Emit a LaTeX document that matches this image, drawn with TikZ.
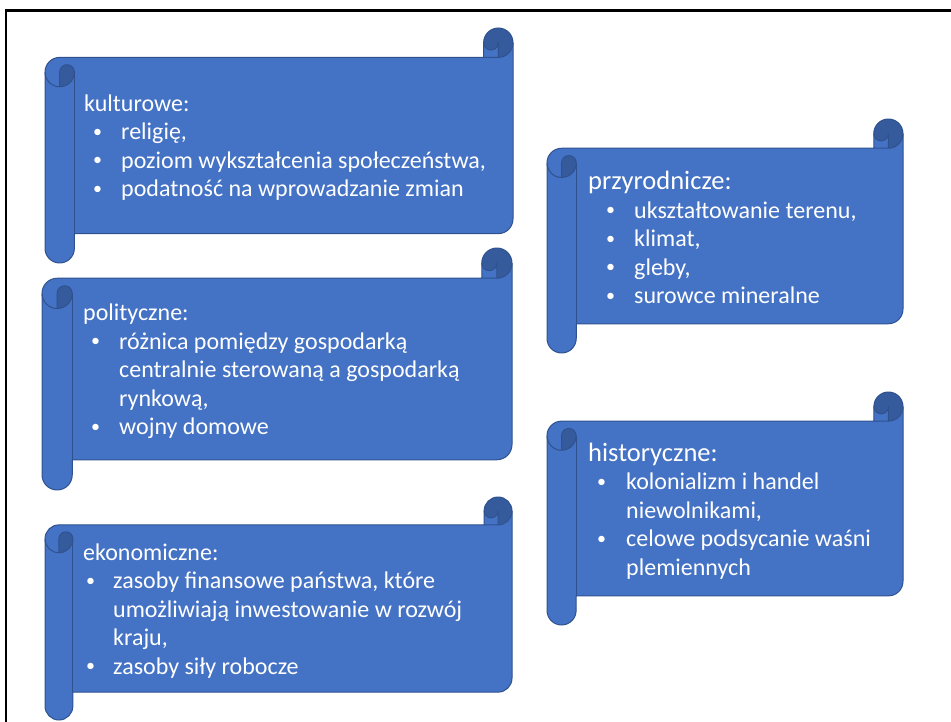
\documentclass[tikz,border=0pt]{standalone}
\usepackage{fontspec}
\setmainfont{Carlito}
\definecolor{scrollblue}{HTML}{4472C4}
\definecolor{scrolledge}{HTML}{2F528F}
\definecolor{scrollcurl}{HTML}{365B9D}
\tikzset{
  scroll fill/.style={fill=scrollblue},
  scroll curl/.style={fill=scrollcurl},
  scroll line/.style={draw=scrolledge, line width=1pt, line join=round},
  scroll text/.style={text=white, inner sep=0pt, anchor=base west, font=\fontsize{24}{28.5}\selectfont},
  bullet indent/.code 2 args={\def\bulx{#1}\def\itemx{#2}},
  frame line/.style={black, line width=2.5pt},
}
\newcommand{\bul}{\makebox[\itemx pt][l]{\hspace{\bulx pt}\raisebox{2.5pt}{\fontsize{18}{18}\selectfont\textbullet}}}
\newcommand{\cont}{\hspace*{\itemx pt}}
\newcommand{\bighead}[1]{{\fontsize{26.5}{28.5}\selectfont #1}}
\newcommand{\drawScroll}[4]{% left, top, right, bottom (px)
  \pgfmathsetmacro{\scw}{#3-#1}
  \pgfmathsetmacro{\sch}{#4-#2}
  \pgfmathsetmacro{\scc}{0.125*min(\scw,\sch)}
  \pgfmathsetmacro{\sct}{\scc/2}
  \pgfmathsetmacro{\scq}{\scc/4}
  \begin{scope}[shift={(#1,#2)}]
    \fill[scroll fill] (\scw,\sct) arc[start angle=0, delta angle=90, radius=\sct]
      -- (\scw-\sct,\sct) arc[start angle=0, delta angle=180, radius=\scq]
      -- (\scw-\scc,\scc) -- (\sct,\scc) arc[start angle=270, delta angle=-90, radius=\sct]
      -- (0,\sch-\sct) arc[start angle=180, delta angle=-180, radius=\sct]
      -- (\scc,\sch-\scc) -- (\scw-\sct,\sch-\scc) arc[start angle=90, delta angle=-90, radius=\sct]
      -- cycle;
    \fill[scroll curl] (\sct,2*\scc) arc[start angle=90, delta angle=-90, radius=\sct]
      arc[start angle=0, delta angle=-180, radius=\scq] -- cycle;
    \fill[scroll curl] (\scw-\sct,\scc) arc[start angle=90, delta angle=-270, radius=\sct]
      arc[start angle=180, delta angle=-180, radius=\scq] -- cycle;
    \draw[scroll line] (0,1.5*\scc) arc[start angle=180, delta angle=90, radius=\sct]
      -- (\scw-\scc,\scc) -- (\scw-\scc,\sct) arc[start angle=180, delta angle=180, radius=\sct]
      -- (\scw,\sch-1.5*\scc) arc[start angle=0, delta angle=90, radius=\sct]
      -- (\scc,\sch-\scc) -- (\scc,\sch-\sct) arc[start angle=0, delta angle=180, radius=\sct]
      -- cycle;
    \draw[scroll line] (\scw-\scc,\scc) -- (\scw-\sct,\scc) arc[start angle=90, delta angle=-90, radius=\sct];
    \draw[scroll line] (\scw-\sct,\scc) -- (\scw-\sct,\sct) arc[start angle=0, delta angle=180, radius=\scq];
    \draw[scroll line] (\sct,2*\scc) -- (\sct,1.5*\scc) arc[start angle=180, delta angle=180, radius=\scq]
      arc[start angle=0, delta angle=180, radius=\sct];
    \draw[scroll line] (\scc,1.5*\scc) -- (\scc,\sch-\scc);
  \end{scope}
}

\begin{document}
\begin{tikzpicture}[x=1pt, y=-1pt]
  \useasboundingbox (0,0) rectangle (951,722);
  \draw[frame line] (6,722) -- (6,10.7) -- (951,10.7);
  % left column
  \drawScroll{45}{28}{513}{263}
  \drawScroll{42}{248}{512}{490}
  \drawScroll{45}{497}{512}{720}
  % right column
  \drawScroll{547}{119}{903}{353}
  \drawScroll{547}{392}{903}{625}
  \node[scroll text, bullet indent={9}{37}] (kulturowe) at (84,111.5) {%
    \begin{tabular}[t]{@{}l@{}}
      kulturowe:\\
      \bul religię,\\
      \bul poziom wykształcenia społeczeństwa,\\
      \bul podatność na wprowadzanie zmian
    \end{tabular}};
  \node[scroll text, bullet indent={8}{36}] (polityczne) at (83,320.7) {%
    \begin{tabular}[t]{@{}l@{}}
      polityczne:\\
      \bul różnica pomiędzy gospodarką\\
      \cont centralnie sterowaną a gospodarką\\
      \cont rynkową,\\
      \bul wojny domowe
    \end{tabular}};
  \node[scroll text, bullet indent={3}{30}] (ekonomiczne) at (83,560) {%
    \begin{tabular}[t]{@{}l@{}}
      ekonomiczne:\\
      \bul zasoby finansowe państwa, które\\
      \cont umożliwiają inwestowanie w rozwój\\
      \cont kraju,\\
      \bul zasoby siły robocze
    \end{tabular}};
  \node[scroll text, bullet indent={18}{46}] (przyrodnicze) at (588,190) {%
    \begin{tabular}[t]{@{}l@{}}
      \bighead{przyrodnicze:}\\
      \bul ukształtowanie terenu,\\
      \bul klimat,\\
      \bul gleby,\\
      \bul surowce mineralne
    \end{tabular}};
  \node[scroll text, bullet indent={9}{38}] (historyczne) at (588,461) {%
    \begin{tabular}[t]{@{}l@{}}
      \bighead{historyczne:}\\
      \bul kolonializm i handel\\
      \cont niewolnikami,\\
      \bul celowe podsycanie waśni\\
      \cont plemiennych
    \end{tabular}};
\end{tikzpicture}
\end{document}
